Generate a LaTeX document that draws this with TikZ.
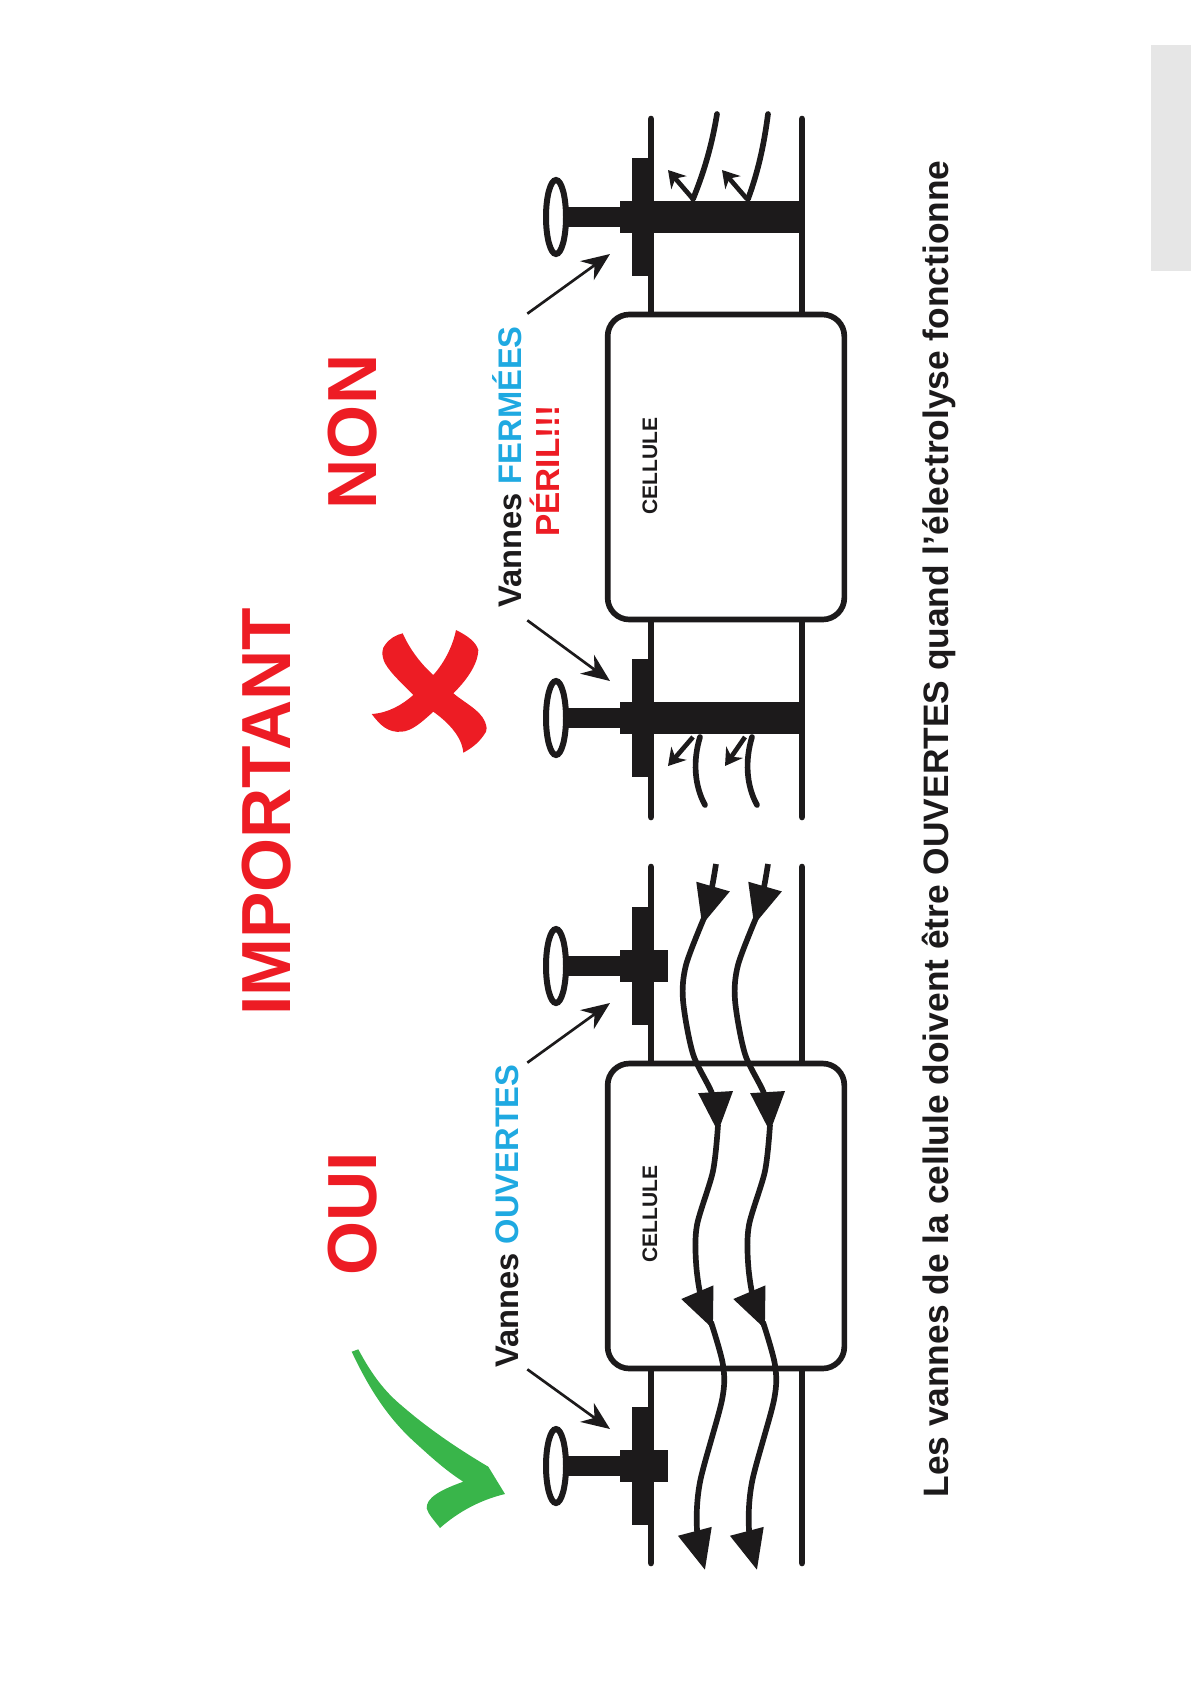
\documentclass[tikz,border=0pt]{standalone}
\usepackage{fontspec}
\setmainfont{Liberation Sans}
\usetikzlibrary{arrows.meta,calc,positioning}
\definecolor{ink}{HTML}{1C1A1B}
\definecolor{alarm}{HTML}{ED1C24}
\definecolor{sky}{HTML}{1FA9E1}
\definecolor{leaf}{HTML}{39B54A}
\definecolor{tab}{HTML}{E6E6E6}
\tikzset{
  wall/.style={ink,line width=4pt,line cap=round},
  cellbox/.style={draw=ink,fill=white,line width=3.4pt,rounded corners=13pt,minimum width=142pt,minimum height=183pt,inner sep=0pt},
  celllabel/.style={rotate=90,text=ink,inner sep=0pt,font=\fontsize{12.6}{13}\bfseries\selectfont},
  heading/.style={rotate=90,text=alarm,inner sep=0pt,font=\fontsize{41.7}{43}\bfseries\selectfont},
  vannes/.style={rotate=90,text=ink,inner sep=0pt,minimum width=183.6pt,minimum height=24pt,font=\fontsize{19.6}{21}\bfseries\selectfont},
  leader/.style={-{Stealth[length=17pt,width=14pt]},ink,line width=1.6pt},
  flow/.style={-{Triangle[length=24pt,width=20pt]},ink,line width=3.4pt},
  spill/.style={-{Stealth[length=10pt,width=12pt]},ink,line width=2.8pt},
  stream/.style={ink,line width=3.4pt,line cap=round}
}
\begin{document}
\begin{tikzpicture}[x=0.6pt,y=-0.6pt]
\useasboundingbox (0,0) rectangle (1191,1684);
\fill[tab] (1151,45) rectangle (1191,271);
\node[heading] (important) at (267,812) {IMPORTANT};
\node[heading] (oui) at (353,1214) {OUI};
\node[heading] (non) at (353,432) {NON};

\foreach \wx in {651,802} {
  \draw[wall] (\wx,119)--(\wx,817);
  \draw[wall] (\wx,867)--(\wx,1563);
}
\node[cellbox] (cellnon) at (726,467) {};
\node[cellbox] (celloui) at (726,1216) {};
\node[celllabel] (labelnon) at (650,466) {CELLULE};
\node[celllabel] (labeloui) at (650,1214) {CELLULE};

\foreach \vy in {217,718,966,1466} {
  \fill[ink] (568,\vy-10) rectangle (620,\vy+10);
  \fill[ink] (620,\vy-16) rectangle (632,\vy+16);
  \fill[ink] (632,\vy-59) rectangle (653,\vy+59);
  \draw[ink,fill=white,line width=3.6pt] (556,\vy) ellipse [x radius=10,y radius=37];
}
\foreach \vy in {966,1466} \fill[ink] (653,\vy-16) rectangle (668,\vy+16);
\foreach \vy in {217,718} \fill[ink] (653,\vy-16) rectangle (803,\vy+16);

\foreach \dx in {0,52} {
  \begin{scope}[shift={(\dx,0)}]
    \draw[flow] plot[smooth] coordinates {(716,864) (711,892) (702,925)};
    \draw[flow] plot[smooth] coordinates {(704,918) (686,965) (683,1000) (693,1054) (713,1096) (718,1132)};
    \draw[flow] plot[smooth] coordinates {(718,1125) (713,1171) (697,1225) (696,1262) (701,1297) (713,1329)};
    \draw[flow] plot[smooth] coordinates {(711,1322) (723,1365) (722,1400) (700,1482) (697,1530) (705,1570)};
  \end{scope}
}
\draw[stream] (717,114) .. controls (712,145) and (704,172) .. (693,199);
\draw[stream] (768,114) .. controls (764,145) and (758,172) .. (748,199);
\draw[spill] (693,199)--(668,170);
\draw[spill] (747,199)--(722,170);
\draw[stream] (700,737) .. controls (693,760) and (694,785) .. (705,805);
\draw[stream] (752,737) .. controls (745,760) and (746,785) .. (757,805);
\draw[spill] (693,737)--(668,766);
\draw[spill] (745,737)--(725,766);

\node[vannes] (vannesoui) at (507,1216) {Vannes \textcolor{sky}{OUVERTES}};
\node[vannes] (vannesnon) at (507,467) {Vannes \textcolor{sky}{FERMÉES}};
\node[rotate=90,text=alarm,inner sep=0pt,font=\fontsize{20}{21}\bfseries\selectfont] (peril) at (545,471) {PÉRIL!!!};

\coordinate (vanneouia) at (610,1003);
\coordinate (vanneouib) at (610,1429);
\coordinate (vannenona) at (610,254);
\coordinate (vannenonb) at (610,681);
\draw[leader] (vannesoui.south east)--(vanneouia);
\draw[leader] (vannesoui.south west)--(vanneouib);
\draw[leader] (vannesnon.south east)--(vannenona);
\draw[leader] (vannesnon.south west)--(vannenonb);

\fill[alarm] (402.7,633.3) .. controls (410,650) and (422,665) .. (433.3,675)
  .. controls (445,662) and (453,645) .. (456,630)
  .. controls (468,636) and (476,642) .. (478.3,650)
  .. controls (478,665) and (465,682) .. (453.3,693.3)
  .. controls (465,703) and (480,710) .. (485,721.7)
  .. controls (487,727) and (487,730) .. (486,731.7)
  .. controls (480,742) and (472,748) .. (463.3,752.7)
  .. controls (462,735) and (445,720) .. (433.3,711.7)
  .. controls (422,722) and (412,731) .. (401.7,731.7)
  .. controls (388,733) and (380,725) .. (371.7,714)
  .. controls (388,713) and (402,705) .. (413.3,695)
  .. controls (402,683) and (392,675) .. (385,663.3)
  .. controls (381,655) and (382,648) .. (385,645)
  .. controls (390,638) and (396,635) .. (402.7,633.3) -- cycle;

\fill[leaf] (351.7,1351.7) -- (358.3,1349.3)
  .. controls (372,1375) and (385,1392) .. (403,1406.7)
  .. controls (430,1430) and (460,1450) .. (488.3,1466.7)
  -- (505,1494)
  .. controls (480,1500) and (458,1512) .. (440,1528)
  .. controls (434,1520) and (428,1514) .. (426.7,1508.3)
  .. controls (426,1498) and (440,1490) .. (463.3,1481.7)
  .. controls (445,1470) and (430,1456) .. (416.7,1444)
  .. controls (392,1422) and (372,1395) .. (351.7,1351.7)
  -- cycle;

\node[rotate=90,text=ink,inner sep=0pt,font=\fontsize{21.2}{22}\bfseries\selectfont] (caption) at (939,829) {Les vannes de la cellule doivent être OUVERTES quand l'électrolyse fonctionne};
\end{tikzpicture}
\end{document}
